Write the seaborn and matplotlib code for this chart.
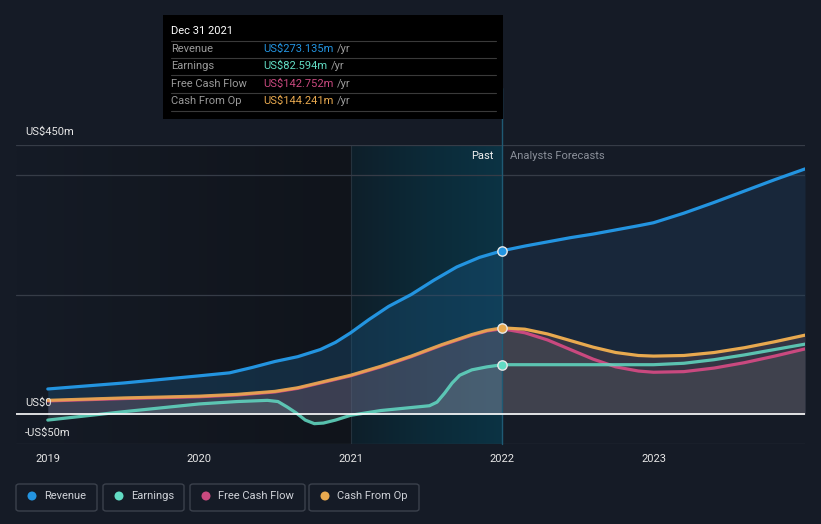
import numpy as np
import pandas as pd
import matplotlib
matplotlib.use("Agg")
import matplotlib.pyplot as plt
from matplotlib.patches import FancyBboxPatch, Rectangle, Ellipse
from matplotlib.colors import LinearSegmentedColormap
import seaborn as sns

# ---------------- data (US$ m) ----------------
rev_years = [2019.0, 2019.5, 2020.0, 2020.2, 2020.35, 2020.5, 2020.65, 2020.8, 2020.9,
             2021.0, 2021.12, 2021.25, 2021.4, 2021.55, 2021.7, 2021.85, 2022.0]
revenue = [42, 52, 64, 69, 78, 88, 96, 108, 120, 136, 158, 180, 200, 224, 246, 262, 273.135]

cash_years = [2019.0, 2019.5, 2020.0, 2020.25, 2020.5, 2020.65, 2020.8, 2021.0, 2021.2,
              2021.4, 2021.6, 2021.8, 2021.9, 2022.0]
cfo_past = [23, 27, 30, 33, 38, 44, 53, 65, 80, 97, 116, 133, 140, 144.241]
fcf_past = [22, 26, 29, 32, 37, 43, 52, 64, 79, 96, 115, 132, 139, 142.752]

earn_years = [2019.0, 2019.5, 2020.0, 2020.25, 2020.45, 2020.52, 2020.58, 2020.64, 2020.7,
              2020.76, 2020.82, 2020.9, 2021.0, 2021.2, 2021.4, 2021.52, 2021.57, 2021.62,
              2021.67, 2021.72, 2021.8, 2021.9, 2022.0]
earnings = [-10, 4, 17, 21, 23, 21, 12, 2, -10, -16, -15, -10, -2, 6, 11, 14, 20, 35,
            52, 65, 74, 79, 82.594]

fc_years = [2022.0, 2022.15, 2022.3, 2022.45, 2022.6, 2022.75, 2022.9, 2023.0, 2023.2,
            2023.4, 2023.6, 2023.8, 2024.0]
revenue_fc = [273.135, 281, 288, 295, 301, 308, 315, 320, 336, 354, 373, 392, 410]
earnings_fc = [82.594, 82.6, 82.6, 82.6, 82.6, 82.6, 82.6, 82.6, 85, 91, 99, 108, 117]
fcf_fc = [142.752, 136, 124, 108, 92, 79, 72, 70, 71, 77, 86, 97, 109]
cfo_fc = [144.241, 142, 134, 123, 112, 103, 98, 97, 98, 103, 111, 121, 132]

year_ticks = [2019, 2020, 2021, 2022, 2023]
y_labels = {450: "US$450m", 0: "US$0", -50: "-US$50m"}

series_names = ["Revenue", "Earnings", "Free Cash Flow", "Cash From Op"]
colors = {"Revenue": "#2394e0", "Earnings": "#62dcc4",
          "Free Cash Flow": "#c9497f", "Cash From Op": "#e8a94f"}
tooltip_vals = ["US$273.135m", "US$82.594m", "US$142.752m", "US$144.241m"]

# ---------------- style ----------------
BG = "#151b26"
sns.set_style("dark", {"axes.facecolor": BG, "figure.facecolor": BG})
plt.rcParams["font.family"] = ["Roboto", "DejaVu Sans"]

fig = plt.figure(figsize=(8.21, 5.24), dpi=100)
fig.patch.set_facecolor(BG)
W, H = 821, 524
ax = fig.add_axes([16 / W, 1 - 444 / H, (805 - 16) / W, (444 - 145) / H])
ax.set_facecolor(BG)
ax.set_xlim(2018.79, 2024.0)
ax.set_ylim(-50, 450)
for s in ax.spines.values():
    s.set_visible(False)

grad = np.linspace(0, 1, 256).reshape(1, -1)
cm_dark = LinearSegmentedColormap.from_list("d", ["#151b26", "#10141b"])
ax.imshow(grad, extent=[2018.79, 2021.0, -50, 450], aspect="auto", cmap=cm_dark, zorder=0)
cm_hl = LinearSegmentedColormap.from_list("h", ["#0e1f2a", "#0c2a38", "#0b3344"])
ax.imshow(grad, extent=[2021.0, 2022.0, -50, 450], aspect="auto", cmap=cm_hl, zorder=0)
ax.axvline(2021.0, color="#25323d", lw=0.8, zorder=1)

for gy in [450, 400, 200, -50]:
    ax.axhline(gy, color="#363c47", lw=0.9, zorder=1)

# fills
ax.fill_between(rev_years, revenue, 0, color="#1c5884", alpha=0.35, lw=0, zorder=2)
ax.fill_between(fc_years, revenue_fc, 0, color="#1f3f60", alpha=0.35, lw=0, zorder=2)
ax.fill_between(cash_years, cfo_past, 0, color="#b07a88", alpha=0.25, lw=0, zorder=3)
ax.fill_between(fc_years, cfo_fc, 0, color="#6a5058", alpha=0.35, lw=0, zorder=3)
ax.fill_between(fc_years, fcf_fc, 0, color="#555860", alpha=0.35, lw=0, zorder=3)
ax.fill_between(earn_years, earnings, 0, color="#9ec8c4", alpha=0.15, lw=0, zorder=3)

def line(x, y, name, z, alpha=1.0):
    df = pd.DataFrame({"x": x, "y": y})
    sns.lineplot(data=df, x="x", y="y", ax=ax, color=colors[name], lw=2.3,
                 zorder=z, alpha=alpha, legend=False)
    ax.lines[-1].set_solid_joinstyle("round")

line(rev_years, revenue, "Revenue", 6)
line(fc_years, revenue_fc, "Revenue", 6)
line(cash_years, fcf_past, "Free Cash Flow", 5)
line(cash_years, cfo_past, "Cash From Op", 5, alpha=0.9)
line(fc_years, fcf_fc, "Free Cash Flow", 5)
line(fc_years, cfo_fc, "Cash From Op", 5)
line(earn_years, earnings, "Earnings", 6, alpha=0.85)
line(fc_years, earnings_fc, "Earnings", 6, alpha=0.85)

ax.axhline(0, color="white", lw=1.2, zorder=7)
ax.plot([2022, 2022], [-50, 545], color="#1f5a74", lw=1.0, zorder=4, clip_on=False)

for v, n in [(273.135, "Revenue"), (82.594, "Earnings"), (144.241, "Cash From Op")]:
    ax.scatter([2022.0], [v], s=45, color=colors[n], edgecolor="#e8e8e8",
               linewidth=1.0, zorder=9)

ax.set_xlabel("")
ax.set_ylabel("")
ax.set_xticks(year_ticks)
ax.set_xticklabels([str(t) for t in year_ticks], color="#e6e6e6", fontsize=8)
ax.tick_params(axis="x", length=3, color="#555b66", pad=4)
ax.set_yticks([])
ax.grid(False)

for v, t in y_labels.items():
    yv = {450: 472, 0: 18, -50: -32}[v]
    ax.text(2018.85, yv, t, color="#e6e6e6", fontsize=8, va="center", ha="left", zorder=10)

ax.text(2021.94, 432, "Past", color="#f0f0f0", fontsize=8, ha="right", va="center", zorder=10)
ax.text(2022.05, 432, "Analysts Forecasts", color="#8a8f99", fontsize=8, ha="left",
        va="center", zorder=10)

# tooltip
tx0, ty0, tw, th = 163 / W, 1 - 119 / H, (503 - 163) / W, (119 - 15) / H
fig.patches.append(Rectangle((tx0, ty0), tw, th, transform=fig.transFigure,
                             facecolor="black", edgecolor="none", zorder=20))
fig.text(171 / W, 1 - 31 / H, "Dec 31 2021", color="white", fontsize=8,
         va="center", zorder=21)
for yy in [41, 58, 75, 93, 111]:
    fig.lines.append(plt.Line2D([171 / W, 496 / W], [1 - yy / H, 1 - yy / H],
                                transform=fig.transFigure, color="#3a3a3a", lw=0.8,
                                zorder=21))
row_y = [49, 66, 84, 101]
fig.canvas.draw()
for name, val, ry in zip(series_names, tooltip_vals, row_y):
    fig.text(171 / W, 1 - ry / H, name, color="#9a9a9a", fontsize=8, va="center", zorder=21)
    t = fig.text(263 / W, 1 - ry / H, val, color=colors[name], fontsize=8,
                 va="center", zorder=21)
    bb = t.get_window_extent(renderer=fig.canvas.get_renderer())
    fig.text((bb.x1 + 4) / W, 1 - ry / H, "/yr", color="#9a9a9a", fontsize=8,
             va="center", zorder=21)

# legend
boxes = [(16, 97), (103, 184), (190, 305), (309, 419)]
for (x0, x1), name in zip(boxes, series_names):
    fig.patches.append(FancyBboxPatch((x0 / W, 1 - 511 / H), (x1 - x0) / W, 27 / H,
                                      boxstyle="round,pad=0,rounding_size=0.004",
                                      transform=fig.transFigure, facecolor=BG,
                                      edgecolor="#3b414c", lw=1.0))
    fig.patches.append(Ellipse(((x0 + 16) / W, 1 - 496 / H), 9 / W, 9 / H,
                               transform=fig.transFigure, facecolor=colors[name],
                               edgecolor="none"))
    fig.text((x0 + 28) / W, 1 - 496 / H, name, color="#cfd2d8", fontsize=8,
             va="center", ha="left")

fig.savefig("out.png", dpi=100, facecolor=BG)
